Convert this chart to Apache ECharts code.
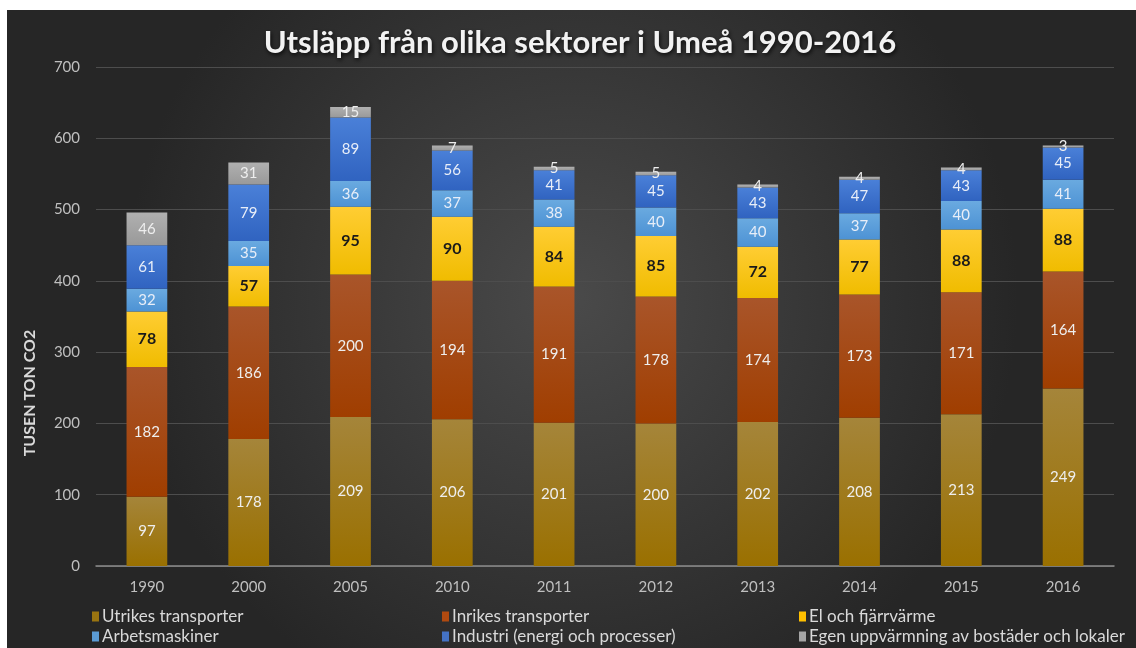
<!DOCTYPE html>
<html><head><meta charset="utf-8">
<script src="https://cdn.jsdelivr.net/npm/echarts@6/dist/echarts.min.js"></script>
<style>html,body{margin:0;padding:0;background:#fff}#c{width:1136px;height:648px}</style>
</head><body><div id="c"></div>
<script>
const years = ['1990','2000','2005','2010','2011','2012','2013','2014','2015','2016'];
const utrikes = [97,178,209,206,201,200,202,208,213,249];
const inrikes = [182,186,200,194,191,178,174,173,171,164];
const el = [78,57,95,90,84,85,72,77,88,88];
const arbets = [32,35,36,37,38,40,40,37,40,41];
const industri = [61,79,89,56,41,45,43,47,43,45];
const egen = [46,31,15,7,5,5,4,4,4,3];
const names = ['Utrikes transporter','Inrikes transporter','El och fjärrvärme','Arbetsmaskiner','Industri (energi och processer)','Egen uppvärmning av bostäder och lokaler'];
const yTicks = [0,100,200,300,400,500,600,700];

const FONT = 'Lato, "Open Sans", sans-serif';
function grad(top, bottom){
  return new echarts.graphic.LinearGradient(0,0,0,1,[{offset:0,color:top},{offset:1,color:bottom}]);
}
const styles = [
  {c:grad('#a5853a','#9a7000'), legend:'#9a7410', lc:'#eeeeee'},
  {c:grad('#a9552a','#a03e00'), legend:'#b04a10', lc:'#eeeeee'},
  {c:grad('#ffcd33','#f0bc00'), legend:'#ffc000', lc:'#1a1a1a'},
  {c:grad('#6aaae0','#4d92d4'), legend:'#5b9bd5', lc:'#e8eef8'},
  {c:grad('#4a80d8','#3063c0'), legend:'#4472c4', lc:'#e8eef8'},
  {c:grad('#b0b0b0','#999999'), legend:'#a5a5a5', lc:'#eeeeee'}
];
const datas = [utrikes,inrikes,el,arbets,industri,egen];
const series = datas.map((d,i)=>({
  name:names[i], type:'bar', stack:'all', barWidth:'40%', data:d,
  itemStyle:{color:styles[i].c},
  label:{show:true, position:'inside', color:styles[i].lc, fontFamily:FONT, fontSize:i===2?16:15, fontWeight:i===2?'bold':'normal'},
  emphasis:{disabled:true}
}));

const chart = echarts.init(document.getElementById('c'),null,{renderer:'canvas'});
const legendPos = [[87,603],[437,603],[794,603],[87,623],[437,623],[794,623]];
const legends = names.map((n,i)=>({
  left:legendPos[i][0], top:legendPos[i][1], orient:'horizontal', itemWidth:7, itemHeight:10, icon:'rect',
  data:[{name:n, itemStyle:{color:styles[i].legend}}],
  textStyle:{color:'#d9d9d9', fontFamily:FONT, fontSize:17, padding:[0,0,0,-2]}, selectedMode:false
}));
chart.setOption({
  backgroundColor:'#ffffff',
  animation:false,
  graphic:[
    {type:'rect', z:-10, silent:true, shape:{x:7,y:10,width:1129,height:638},
     style:{fill:new echarts.graphic.RadialGradient(0.5,0.45,0.7,[{offset:0,color:'#4a4a4a'},{offset:1,color:'#262626'}])}},
    {type:'text', silent:true, x:30, y:393, rotation:Math.PI/2,
     style:{text:'TUSEN TON CO2', fill:'#d9d9d9', font:'bold 16px '+FONT, align:'center', verticalAlign:'middle'}}
  ],
  title:{text:'Utsläpp från olika sektorer i Umeå 1990-2016', left:575, top:22, textAlign:'center',
    textStyle:{color:'#f2f2f2', fontFamily:FONT, fontSize:31, fontWeight:'bold', textShadowColor:'rgba(0,0,0,0.8)', textShadowBlur:4, textShadowOffsetX:1, textShadowOffsetY:2}},
  legend:legends,
  grid:{left:96, right:22, top:67, bottom:82, containLabel:false},
  xAxis:{type:'category', data:years,
    axisLine:{lineStyle:{color:'#8c8c8c', width:1.5}}, axisTick:{show:false},
    axisLabel:{color:'#bfbfbf', fontFamily:FONT, fontSize:15, margin:14}},
  yAxis:{type:'value', min:0, max:700, interval:100,
    axisLine:{show:false}, axisTick:{show:false},
    splitLine:{lineStyle:{color:'#4d4d4d', width:1}},
    axisLabel:{color:'#bfbfbf', fontFamily:FONT, fontSize:15, margin:16,
      formatter:v=>yTicks.includes(v)?String(v):''}},
  series:series
});
</script></body></html>
